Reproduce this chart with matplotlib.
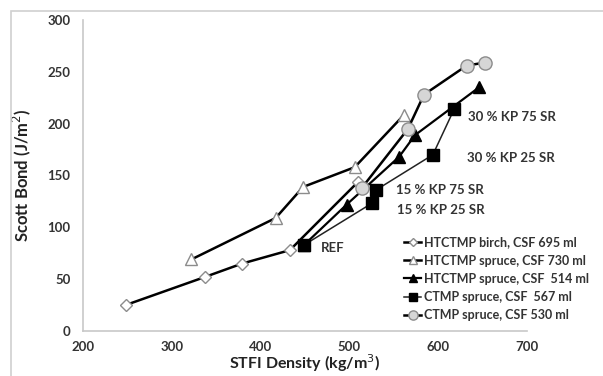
import matplotlib
matplotlib.use("Agg")
import matplotlib.pyplot as plt
from matplotlib.patches import Rectangle

plt.rcParams['font.family'] = ['Lato', 'DejaVu Sans']

# data (STFI density kg/m3, Scott bond J/m2)
birch_x = [248, 337, 379, 433, 510]
birch_y = [25, 52, 65, 78, 144]

spr730_x = [322, 417, 448, 506, 561]
spr730_y = [69, 109, 139, 158, 208]

spr514_x = [449, 497, 556, 574, 646]
spr514_y = [83, 122, 168, 189, 235]

ctmp567_x = [449, 525, 530, 594, 618]
ctmp567_y = [83, 123, 136, 170, 214]

ctmp530_x = [514, 566, 584, 632, 653]
ctmp530_y = [138, 195, 228, 256, 259]

labels = ["HTCTMP birch, CSF 695 ml", "HTCTMP spruce, CSF 730 ml",
          "HTCTMP spruce, CSF  514 ml", "CTMP spruce, CSF  567 ml",
          "CTMP spruce, CSF 530 ml"]

notes = ["30 % KP 75 SR", "30 % KP 25 SR", "15 % KP 75 SR", "15 % KP 25 SR", "REF"]
note_pos = [(634, 206), (632, 167), (553, 136), (554, 117), (468, 80)]

xticks = [200, 300, 400, 500, 600, 700]
yticks = [0, 50, 100, 150, 200, 250, 300]

fig = plt.figure(figsize=(6.03, 3.76), dpi=100)
fig.patches.append(Rectangle((11/603, -0.01), 1.0, 1 - 11/376 + 0.01, transform=fig.transFigure,
                             fill=False, edgecolor='#d0d0d0', linewidth=1.2))
ax = fig.add_axes([0.1376, 0.1197, 0.7363, 0.8271])

ax.plot(birch_x, birch_y, color='black', lw=1.8, marker='D', ms=6.5,
        mfc='white', mec='#8c8c8c', mew=1.0, label=labels[0], zorder=3)
ax.plot(spr730_x, spr730_y, color='black', lw=1.8, marker='^', ms=8.5,
        mfc='white', mec='#8c8c8c', mew=1.0, label=labels[1], zorder=3)
ax.plot(spr514_x, spr514_y, color='black', lw=1.6, marker='^', ms=8.5,
        mfc='black', mec='black', label=labels[2], zorder=4)
ax.plot(ctmp567_x, ctmp567_y, color='#222222', lw=1.1, marker='s', ms=9,
        mfc='black', mec='black', label=labels[3], zorder=5)
ax.plot(ctmp530_x, ctmp530_y, color='black', lw=1.8, marker='o', ms=9.5,
        mfc='#d6d6d6', mec='#8c8c8c', mew=1.0, label=labels[4], zorder=4)

for t, (x, y) in zip(notes, note_pos):
    ax.text(x, y, t, fontsize=9.5, fontweight='bold', color='#333333', va='center', ha='left')

ax.set_xlim(200, 700)
ax.set_ylim(0, 300)
ax.set_xticks(xticks)
ax.set_yticks(yticks)
ax.tick_params(length=0, labelsize=9.5, labelcolor='#333333')
ax.tick_params(axis='x', pad=7)
ax.tick_params(axis='y', pad=9)
for lab in ax.get_xticklabels() + ax.get_yticklabels():
    lab.set_fontweight('bold')
for s in ['top', 'right']:
    ax.spines[s].set_visible(False)
for s in ['left', 'bottom']:
    ax.spines[s].set_color('#c8c8c8')
    ax.spines[s].set_linewidth(1.2)

ax.set_xlabel("STFI Density (kg/m$^3$)", fontsize=11.5, fontweight='bold', color='#222222', labelpad=0)
ax.set_ylabel("Scott Bond (J/m$^2$)", fontsize=12, fontweight='bold', color='#222222', labelpad=10)

leg = ax.legend(loc='lower right', bbox_to_anchor=(1.165, -0.005), frameon=False,
                fontsize=9, handlelength=1.4, handletextpad=0.2, labelspacing=0.5,
                markerscale=0.7)
for txt in leg.get_texts():
    txt.set_fontweight('bold')
    txt.set_color('#333333')

fig.savefig("out.png", dpi=100)
